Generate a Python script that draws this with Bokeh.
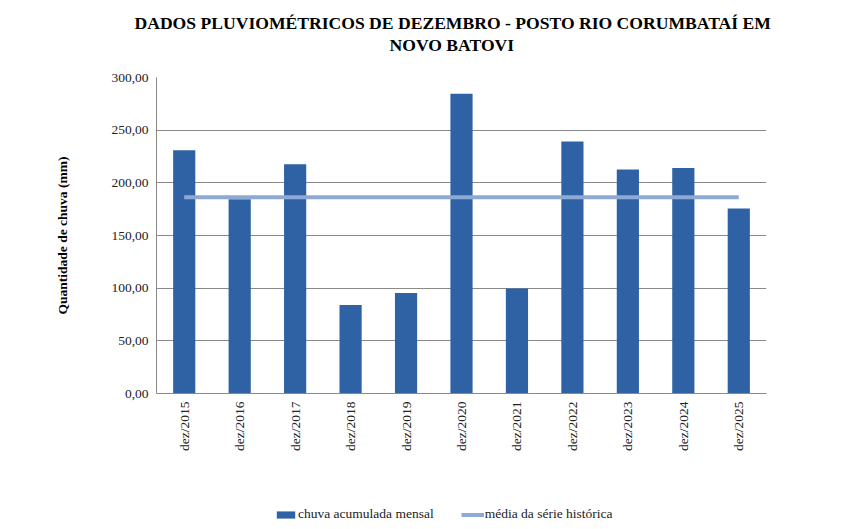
import math
from bokeh.plotting import figure
from bokeh.layouts import column
from bokeh.models import Legend, LegendItem, FactorRange, Title, Range1d
from bokeh.embed import file_html
from bokeh.resources import INLINE

# ---- data ----
categories = ["dez/2015", "dez/2016", "dez/2017", "dez/2018", "dez/2019", "dez/2020",
              "dez/2021", "dez/2022", "dez/2023", "dez/2024", "dez/2025"]
chuva_mensal = [231.0, 184.5, 217.6, 84.0, 95.4, 284.5, 99.6, 239.2, 212.6, 214.2, 175.6]
media_historica = 186.3
y_ticks = [0, 50, 100, 150, 200, 250, 300]
y_tick_labels = ["0,00", "50,00", "100,00", "150,00", "200,00", "250,00", "300,00"]
series_names = ["chuva acumulada mensal", "média da série histórica"]

title_line1 = "DADOS PLUVIOMÉTRICOS DE DEZEMBRO - POSTO RIO CORUMBATAÍ EM"
title_line2 = "NOVO BATOVI"
serif = "Liberation Serif"
bar_color = "#2F62A4"
line_color = "#8EA9D3"

p = figure(width=846, height=501, x_range=FactorRange(*categories), y_range=(0, 300),
           output_backend="svg", toolbar_location=None,
           min_border_left=156, min_border_right=80, min_border_top=77, min_border_bottom=108)

xa = p.xaxis[0]
ya = p.yaxis[0]

def style_title(t, off):
    t.align = "left"
    t.offset = off
    t.text_font = serif
    t.text_font_size = "17.6px"
    t.text_font_style = "bold"
    t.text_color = "#000000"
    t.standoff = 0

style_title(p.title, -22)
p.title.text = title_line1
# blank spacer between the title block and the plot frame (added first = nearest the frame)
gap = Title(text=" ", text_font_size="1px", standoff=20)
p.add_layout(gap, "above")
t2 = Title(text=title_line2)
style_title(t2, 233)
p.add_layout(t2, "above")

p.vbar(x=categories, top=chuva_mensal, width=0.4, fill_color=bar_color, line_color=None)
p.line(x=categories, y=[media_historica] * len(categories), line_width=4, line_color=line_color)

p.x_range.range_padding = 0
p.outline_line_color = None
p.background_fill_color = "white"
p.border_fill_color = "white"

p.xgrid.grid_line_color = None
p.ygrid.grid_line_color = "#8a8a8a"
p.ygrid.ticker = y_ticks

ya.ticker = y_ticks
ya.major_label_overrides = {t: l for t, l in zip(y_ticks, y_tick_labels)}
ya.axis_label = "Quantidade de chuva (mm)"
ya.axis_label_text_font = serif
ya.axis_label_text_font_style = "bold"
ya.axis_label_text_font_size = "13.5px"
ya.axis_label_text_color = "#000000"
ya.axis_label_standoff = 38

for ax in (xa, ya):
    ax.axis_line_color = "#8a8a8a"
    ax.major_tick_line_color = None
    ax.minor_tick_line_color = None
    ax.major_tick_out = 0
    ax.major_tick_in = 0
    ax.major_label_text_font = serif
    ax.major_label_text_font_size = "13.5px"
    ax.major_label_text_color = "#222222"
    ax.major_label_standoff = 8

xa.major_label_orientation = math.pi / 2

# ---- legend strip below the chart ----
lf = figure(width=846, height=28, x_range=FactorRange(*categories), y_range=Range1d(0, 300),
            output_backend="svg", toolbar_location=None, min_border=0)
lf.axis.visible = False
lf.grid.visible = False
lf.outline_line_color = None
lb = lf.vbar(x=categories, top=chuva_mensal, width=0.4, fill_color=bar_color, line_color=None,
             visible=False)
ll = lf.line(x=categories, y=[media_historica] * len(categories), line_width=4,
             line_color=line_color, visible=False)
legend = Legend(items=[LegendItem(label=series_names[0], renderers=[lb]),
                       LegendItem(label=series_names[1], renderers=[ll])],
                orientation="horizontal", location=(118, 7),
                glyph_width=23, glyph_height=9, label_height=14, label_standoff=1,
                spacing=27, padding=0, margin=0,
                inactive_fill_alpha=0,
                border_line_color=None, background_fill_alpha=0,
                label_text_font=serif, label_text_font_size="13.5px", label_text_color="#222222")
lf.add_layout(legend)

layout = column(p, lf, spacing=0)
open("out.html", "w").write(file_html(layout, INLINE))
